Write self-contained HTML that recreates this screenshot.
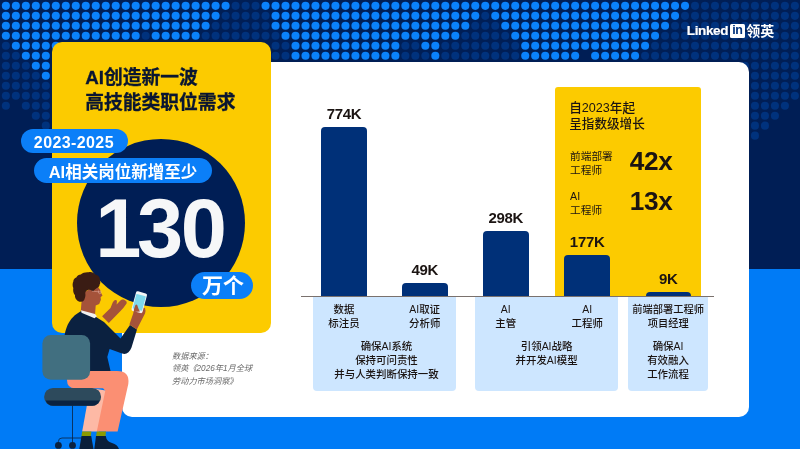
<!DOCTYPE html>
<html lang="zh-CN">
<head>
<meta charset="utf-8">
<title>AI创造新一波高技能类职位需求</title>
<style>
html,body{margin:0;padding:0}
body{width:800px;height:449px;overflow:hidden;background:#001e55;position:relative;font-family:"Liberation Sans","Noto Sans CJK SC",sans-serif;color:#1b1412}
.a{position:absolute}
#band{left:0;top:269.4px;width:800px;height:180px;background:#007bf6}
#bg{left:0;top:0}
#white{left:121.5px;top:61.5px;width:627.7px;height:355.8px;border-radius:10px;background:#fff}
#ycard{left:51.5px;top:41.5px;width:219.7px;height:291.7px;border-radius:10px;background:#fccb00}
#circle{left:77px;top:138.7px;width:168px;height:168px;border-radius:50%;background:#001e55}
.title{left:85.2px;-webkit-text-stroke:0.3px #0a1631;font-weight:700;font-size:18.8px;line-height:26px;color:#0a1631;white-space:nowrap}
.pill{background:#0b7ff8;color:#fff;border-radius:14px;text-align:center;font-weight:700;white-space:nowrap}
#p1{left:21.4px;top:128.8px;width:106.2px;height:24.5px;line-height:28.5px;font-size:16px;letter-spacing:0.4px;text-indent:-1.2px}
#p2{left:34px;top:158px;width:177.8px;height:25.3px;line-height:28.6px;font-size:16.5px}
#p3{left:190.8px;top:271.7px;width:61.9px;height:27.6px;line-height:28.8px;font-size:21px;text-indent:2.5px}
#big{left:93.3px;top:184px;width:160px;text-align:left;font-size:83px;line-height:90px;font-weight:700;color:#f6f7f8;letter-spacing:-2.45px;white-space:nowrap}
#foot{left:104.2px;top:248.6px;width:32.6px;height:8.6px;background:#f6f7f8}
.src{left:172px;font-size:8.2px;line-height:12.5px;font-style:italic;color:#6a6a6a;white-space:nowrap}
#ybox{left:555.2px;top:86.8px;width:146.2px;height:209.5px;border-radius:3px 3px 0 0;background:#fccb00}
.bar{background:#003078;border-radius:4px 4px 0 0}
.val{font-weight:700;font-size:15px;letter-spacing:-0.3px;line-height:16px;text-align:center;width:60px;white-space:nowrap}
#axis{left:301.4px;top:295.7px;width:413px;height:0.9px;background:#7a716d}
.lb{background:#cde6ff;border-radius:0 0 4px 4px;top:296.6px;height:94.6px}
.t{font-size:10.45px;font-weight:500;line-height:14px;text-align:center;width:120px;white-space:nowrap;color:#1b1412}
.h{left:569.2px;font-size:12.6px;line-height:16px;font-weight:500;white-space:nowrap}
.s{left:570px;font-size:10.7px;line-height:14px;white-space:nowrap}
.m{left:629.8px;font-size:26.2px;line-height:28px;font-weight:700;white-space:nowrap;letter-spacing:-0.3px}
#logo{left:686.8px;top:22px;color:#fff;white-space:nowrap;height:18px}
</style>
</head>
<body>
<div class="a" id="band"></div>
<svg class="a" id="bg" width="800" height="449" viewBox="0 0 800 449">
<g fill="#00327d"><circle cx="235.57" cy="5.85" r="4.05"/><circle cx="245.56" cy="5.85" r="4.05"/><circle cx="255.55" cy="5.85" r="4.05"/><circle cx="695.02" cy="5.85" r="4.05"/><circle cx="705.01" cy="5.85" r="4.05"/><circle cx="715.00" cy="5.85" r="4.05"/><circle cx="724.99" cy="5.85" r="4.05"/><circle cx="734.97" cy="5.85" r="4.05"/><circle cx="744.96" cy="5.85" r="4.05"/><circle cx="754.95" cy="5.85" r="4.05"/><circle cx="764.94" cy="5.85" r="4.05"/><circle cx="774.93" cy="5.85" r="4.05"/><circle cx="784.91" cy="5.85" r="4.05"/><circle cx="794.90" cy="5.85" r="4.05"/><circle cx="225.59" cy="15.83" r="4.05"/><circle cx="235.57" cy="15.83" r="4.05"/><circle cx="245.56" cy="15.83" r="4.05"/><circle cx="255.55" cy="15.83" r="4.05"/><circle cx="265.54" cy="15.83" r="4.05"/><circle cx="485.27" cy="15.83" r="4.05"/><circle cx="685.03" cy="15.83" r="4.05"/><circle cx="695.02" cy="15.83" r="4.05"/><circle cx="705.01" cy="15.83" r="4.05"/><circle cx="715.00" cy="15.83" r="4.05"/><circle cx="724.99" cy="15.83" r="4.05"/><circle cx="734.97" cy="15.83" r="4.05"/><circle cx="744.96" cy="15.83" r="4.05"/><circle cx="754.95" cy="15.83" r="4.05"/><circle cx="764.94" cy="15.83" r="4.05"/><circle cx="774.93" cy="15.83" r="4.05"/><circle cx="784.91" cy="15.83" r="4.05"/><circle cx="794.90" cy="15.83" r="4.05"/><circle cx="215.60" cy="25.82" r="4.05"/><circle cx="225.59" cy="25.82" r="4.05"/><circle cx="235.57" cy="25.82" r="4.05"/><circle cx="245.56" cy="25.82" r="4.05"/><circle cx="255.55" cy="25.82" r="4.05"/><circle cx="265.54" cy="25.82" r="4.05"/><circle cx="475.29" cy="25.82" r="4.05"/><circle cx="485.27" cy="25.82" r="4.05"/><circle cx="495.26" cy="25.82" r="4.05"/><circle cx="675.05" cy="25.82" r="4.05"/><circle cx="685.03" cy="25.82" r="4.05"/><circle cx="695.02" cy="25.82" r="4.05"/><circle cx="705.01" cy="25.82" r="4.05"/><circle cx="715.00" cy="25.82" r="4.05"/><circle cx="724.99" cy="25.82" r="4.05"/><circle cx="734.97" cy="25.82" r="4.05"/><circle cx="744.96" cy="25.82" r="4.05"/><circle cx="754.95" cy="25.82" r="4.05"/><circle cx="764.94" cy="25.82" r="4.05"/><circle cx="774.93" cy="25.82" r="4.05"/><circle cx="784.91" cy="25.82" r="4.05"/><circle cx="794.90" cy="25.82" r="4.05"/><circle cx="145.68" cy="35.80" r="4.05"/><circle cx="205.61" cy="35.80" r="4.05"/><circle cx="215.60" cy="35.80" r="4.05"/><circle cx="225.59" cy="35.80" r="4.05"/><circle cx="235.57" cy="35.80" r="4.05"/><circle cx="245.56" cy="35.80" r="4.05"/><circle cx="255.55" cy="35.80" r="4.05"/><circle cx="265.54" cy="35.80" r="4.05"/><circle cx="275.53" cy="35.80" r="4.05"/><circle cx="465.30" cy="35.80" r="4.05"/><circle cx="475.29" cy="35.80" r="4.05"/><circle cx="485.27" cy="35.80" r="4.05"/><circle cx="495.26" cy="35.80" r="4.05"/><circle cx="505.25" cy="35.80" r="4.05"/><circle cx="665.06" cy="35.80" r="4.05"/><circle cx="675.05" cy="35.80" r="4.05"/><circle cx="685.03" cy="35.80" r="4.05"/><circle cx="695.02" cy="35.80" r="4.05"/><circle cx="705.01" cy="35.80" r="4.05"/><circle cx="715.00" cy="35.80" r="4.05"/><circle cx="724.99" cy="35.80" r="4.05"/><circle cx="734.97" cy="35.80" r="4.05"/><circle cx="744.96" cy="35.80" r="4.05"/><circle cx="754.95" cy="35.80" r="4.05"/><circle cx="764.94" cy="35.80" r="4.05"/><circle cx="774.93" cy="35.80" r="4.05"/><circle cx="784.91" cy="35.80" r="4.05"/><circle cx="794.90" cy="35.80" r="4.05"/><circle cx="5.85" cy="45.79" r="4.05"/><circle cx="275.53" cy="45.79" r="4.05"/><circle cx="285.51" cy="45.79" r="4.05"/><circle cx="405.37" cy="45.79" r="4.05"/><circle cx="415.36" cy="45.79" r="4.05"/><circle cx="445.32" cy="45.79" r="4.05"/><circle cx="455.31" cy="45.79" r="4.05"/><circle cx="465.30" cy="45.79" r="4.05"/><circle cx="475.29" cy="45.79" r="4.05"/><circle cx="485.27" cy="45.79" r="4.05"/><circle cx="495.26" cy="45.79" r="4.05"/><circle cx="505.25" cy="45.79" r="4.05"/><circle cx="515.24" cy="45.79" r="4.05"/><circle cx="655.07" cy="45.79" r="4.05"/><circle cx="665.06" cy="45.79" r="4.05"/><circle cx="675.05" cy="45.79" r="4.05"/><circle cx="685.03" cy="45.79" r="4.05"/><circle cx="695.02" cy="45.79" r="4.05"/><circle cx="705.01" cy="45.79" r="4.05"/><circle cx="715.00" cy="45.79" r="4.05"/><circle cx="724.99" cy="45.79" r="4.05"/><circle cx="734.97" cy="45.79" r="4.05"/><circle cx="744.96" cy="45.79" r="4.05"/><circle cx="754.95" cy="45.79" r="4.05"/><circle cx="764.94" cy="45.79" r="4.05"/><circle cx="774.93" cy="45.79" r="4.05"/><circle cx="784.91" cy="45.79" r="4.05"/><circle cx="794.90" cy="45.79" r="4.05"/><circle cx="5.85" cy="55.77" r="4.05"/><circle cx="15.84" cy="55.77" r="4.05"/><circle cx="275.53" cy="55.77" r="4.05"/><circle cx="285.51" cy="55.77" r="4.05"/><circle cx="405.37" cy="55.77" r="4.05"/><circle cx="415.36" cy="55.77" r="4.05"/><circle cx="425.35" cy="55.77" r="4.05"/><circle cx="445.32" cy="55.77" r="4.05"/><circle cx="455.31" cy="55.77" r="4.05"/><circle cx="465.30" cy="55.77" r="4.05"/><circle cx="475.29" cy="55.77" r="4.05"/><circle cx="485.27" cy="55.77" r="4.05"/><circle cx="495.26" cy="55.77" r="4.05"/><circle cx="505.25" cy="55.77" r="4.05"/><circle cx="515.24" cy="55.77" r="4.05"/><circle cx="645.08" cy="55.77" r="4.05"/><circle cx="655.07" cy="55.77" r="4.05"/><circle cx="665.06" cy="55.77" r="4.05"/><circle cx="675.05" cy="55.77" r="4.05"/><circle cx="685.03" cy="55.77" r="4.05"/><circle cx="695.02" cy="55.77" r="4.05"/><circle cx="705.01" cy="55.77" r="4.05"/><circle cx="715.00" cy="55.77" r="4.05"/><circle cx="724.99" cy="55.77" r="4.05"/><circle cx="734.97" cy="55.77" r="4.05"/><circle cx="744.96" cy="55.77" r="4.05"/><circle cx="754.95" cy="55.77" r="4.05"/><circle cx="764.94" cy="55.77" r="4.05"/><circle cx="774.93" cy="55.77" r="4.05"/><circle cx="784.91" cy="55.77" r="4.05"/><circle cx="794.90" cy="55.77" r="4.05"/><circle cx="5.85" cy="65.76" r="4.05"/><circle cx="15.84" cy="65.76" r="4.05"/><circle cx="25.83" cy="65.76" r="4.05"/><circle cx="744.96" cy="65.76" r="4.05"/><circle cx="754.95" cy="65.76" r="4.05"/><circle cx="764.94" cy="65.76" r="4.05"/><circle cx="774.93" cy="65.76" r="4.05"/><circle cx="784.91" cy="65.76" r="4.05"/><circle cx="794.90" cy="65.76" r="4.05"/><circle cx="5.85" cy="75.74" r="4.05"/><circle cx="15.84" cy="75.74" r="4.05"/><circle cx="25.83" cy="75.74" r="4.05"/><circle cx="35.81" cy="75.74" r="4.05"/><circle cx="754.95" cy="75.74" r="4.05"/><circle cx="764.94" cy="75.74" r="4.05"/><circle cx="774.93" cy="75.74" r="4.05"/><circle cx="784.91" cy="75.74" r="4.05"/><circle cx="794.90" cy="75.74" r="4.05"/><circle cx="5.85" cy="85.73" r="4.05"/><circle cx="15.84" cy="85.73" r="4.05"/><circle cx="25.83" cy="85.73" r="4.05"/><circle cx="35.81" cy="85.73" r="4.05"/><circle cx="45.80" cy="85.73" r="4.05"/><circle cx="754.95" cy="85.73" r="4.05"/><circle cx="764.94" cy="85.73" r="4.05"/><circle cx="774.93" cy="85.73" r="4.05"/><circle cx="784.91" cy="85.73" r="4.05"/><circle cx="794.90" cy="85.73" r="4.05"/><circle cx="5.85" cy="95.71" r="4.05"/><circle cx="15.84" cy="95.71" r="4.05"/><circle cx="25.83" cy="95.71" r="4.05"/><circle cx="35.81" cy="95.71" r="4.05"/><circle cx="45.80" cy="95.71" r="4.05"/><circle cx="754.95" cy="95.71" r="4.05"/><circle cx="764.94" cy="95.71" r="4.05"/><circle cx="774.93" cy="95.71" r="4.05"/><circle cx="784.91" cy="95.71" r="4.05"/><circle cx="794.90" cy="95.71" r="4.05"/><circle cx="5.85" cy="105.70" r="4.05"/><circle cx="25.83" cy="105.70" r="4.05"/><circle cx="35.81" cy="105.70" r="4.05"/><circle cx="45.80" cy="105.70" r="4.05"/><circle cx="754.95" cy="105.70" r="4.05"/><circle cx="764.94" cy="105.70" r="4.05"/><circle cx="774.93" cy="105.70" r="4.05"/><circle cx="784.91" cy="105.70" r="4.05"/><circle cx="35.81" cy="115.68" r="4.05"/><circle cx="45.80" cy="115.68" r="4.05"/><circle cx="754.95" cy="115.68" r="4.05"/><circle cx="764.94" cy="115.68" r="4.05"/><circle cx="774.93" cy="115.68" r="4.05"/><circle cx="45.80" cy="125.67" r="4.05"/><circle cx="754.95" cy="125.67" r="4.05"/><circle cx="764.94" cy="125.67" r="4.05"/><circle cx="754.95" cy="135.66" r="4.05"/></g>
<g fill="#0a82fc"><circle cx="5.85" cy="5.85" r="4.05"/><circle cx="15.84" cy="5.85" r="4.05"/><circle cx="25.83" cy="5.85" r="4.05"/><circle cx="35.81" cy="5.85" r="4.05"/><circle cx="45.80" cy="5.85" r="4.05"/><circle cx="55.79" cy="5.85" r="4.05"/><circle cx="65.78" cy="5.85" r="4.05"/><circle cx="75.77" cy="5.85" r="4.05"/><circle cx="85.75" cy="5.85" r="4.05"/><circle cx="95.74" cy="5.85" r="4.05"/><circle cx="105.73" cy="5.85" r="4.05"/><circle cx="115.72" cy="5.85" r="4.05"/><circle cx="125.71" cy="5.85" r="4.05"/><circle cx="135.69" cy="5.85" r="4.05"/><circle cx="145.68" cy="5.85" r="4.05"/><circle cx="155.67" cy="5.85" r="4.05"/><circle cx="165.66" cy="5.85" r="4.05"/><circle cx="175.65" cy="5.85" r="4.05"/><circle cx="185.63" cy="5.85" r="4.05"/><circle cx="195.62" cy="5.85" r="4.05"/><circle cx="205.61" cy="5.85" r="4.05"/><circle cx="215.60" cy="5.85" r="4.05"/><circle cx="225.59" cy="5.85" r="4.05"/><circle cx="265.54" cy="5.85" r="4.05"/><circle cx="275.53" cy="5.85" r="4.05"/><circle cx="285.51" cy="5.85" r="4.05"/><circle cx="295.50" cy="5.85" r="4.05"/><circle cx="305.49" cy="5.85" r="4.05"/><circle cx="315.48" cy="5.85" r="4.05"/><circle cx="325.47" cy="5.85" r="4.05"/><circle cx="335.45" cy="5.85" r="4.05"/><circle cx="345.44" cy="5.85" r="4.05"/><circle cx="355.43" cy="5.85" r="4.05"/><circle cx="365.42" cy="5.85" r="4.05"/><circle cx="375.41" cy="5.85" r="4.05"/><circle cx="385.39" cy="5.85" r="4.05"/><circle cx="395.38" cy="5.85" r="4.05"/><circle cx="405.37" cy="5.85" r="4.05"/><circle cx="415.36" cy="5.85" r="4.05"/><circle cx="425.35" cy="5.85" r="4.05"/><circle cx="435.33" cy="5.85" r="4.05"/><circle cx="445.32" cy="5.85" r="4.05"/><circle cx="455.31" cy="5.85" r="4.05"/><circle cx="465.30" cy="5.85" r="4.05"/><circle cx="475.29" cy="5.85" r="4.05"/><circle cx="485.27" cy="5.85" r="4.05"/><circle cx="495.26" cy="5.85" r="4.05"/><circle cx="505.25" cy="5.85" r="4.05"/><circle cx="515.24" cy="5.85" r="4.05"/><circle cx="525.23" cy="5.85" r="4.05"/><circle cx="535.21" cy="5.85" r="4.05"/><circle cx="545.20" cy="5.85" r="4.05"/><circle cx="555.19" cy="5.85" r="4.05"/><circle cx="565.18" cy="5.85" r="4.05"/><circle cx="575.17" cy="5.85" r="4.05"/><circle cx="585.15" cy="5.85" r="4.05"/><circle cx="595.14" cy="5.85" r="4.05"/><circle cx="605.13" cy="5.85" r="4.05"/><circle cx="615.12" cy="5.85" r="4.05"/><circle cx="625.11" cy="5.85" r="4.05"/><circle cx="635.09" cy="5.85" r="4.05"/><circle cx="645.08" cy="5.85" r="4.05"/><circle cx="655.07" cy="5.85" r="4.05"/><circle cx="665.06" cy="5.85" r="4.05"/><circle cx="675.05" cy="5.85" r="4.05"/><circle cx="685.03" cy="5.85" r="4.05"/><circle cx="5.85" cy="15.83" r="4.05"/><circle cx="15.84" cy="15.83" r="4.05"/><circle cx="25.83" cy="15.83" r="4.05"/><circle cx="35.81" cy="15.83" r="4.05"/><circle cx="45.80" cy="15.83" r="4.05"/><circle cx="55.79" cy="15.83" r="4.05"/><circle cx="65.78" cy="15.83" r="4.05"/><circle cx="75.77" cy="15.83" r="4.05"/><circle cx="85.75" cy="15.83" r="4.05"/><circle cx="95.74" cy="15.83" r="4.05"/><circle cx="105.73" cy="15.83" r="4.05"/><circle cx="115.72" cy="15.83" r="4.05"/><circle cx="125.71" cy="15.83" r="4.05"/><circle cx="135.69" cy="15.83" r="4.05"/><circle cx="145.68" cy="15.83" r="4.05"/><circle cx="155.67" cy="15.83" r="4.05"/><circle cx="165.66" cy="15.83" r="4.05"/><circle cx="175.65" cy="15.83" r="4.05"/><circle cx="185.63" cy="15.83" r="4.05"/><circle cx="195.62" cy="15.83" r="4.05"/><circle cx="205.61" cy="15.83" r="4.05"/><circle cx="215.60" cy="15.83" r="4.05"/><circle cx="275.53" cy="15.83" r="4.05"/><circle cx="285.51" cy="15.83" r="4.05"/><circle cx="295.50" cy="15.83" r="4.05"/><circle cx="305.49" cy="15.83" r="4.05"/><circle cx="315.48" cy="15.83" r="4.05"/><circle cx="325.47" cy="15.83" r="4.05"/><circle cx="335.45" cy="15.83" r="4.05"/><circle cx="345.44" cy="15.83" r="4.05"/><circle cx="355.43" cy="15.83" r="4.05"/><circle cx="365.42" cy="15.83" r="4.05"/><circle cx="375.41" cy="15.83" r="4.05"/><circle cx="385.39" cy="15.83" r="4.05"/><circle cx="395.38" cy="15.83" r="4.05"/><circle cx="405.37" cy="15.83" r="4.05"/><circle cx="415.36" cy="15.83" r="4.05"/><circle cx="425.35" cy="15.83" r="4.05"/><circle cx="435.33" cy="15.83" r="4.05"/><circle cx="445.32" cy="15.83" r="4.05"/><circle cx="455.31" cy="15.83" r="4.05"/><circle cx="465.30" cy="15.83" r="4.05"/><circle cx="475.29" cy="15.83" r="4.05"/><circle cx="495.26" cy="15.83" r="4.05"/><circle cx="505.25" cy="15.83" r="4.05"/><circle cx="515.24" cy="15.83" r="4.05"/><circle cx="525.23" cy="15.83" r="4.05"/><circle cx="535.21" cy="15.83" r="4.05"/><circle cx="545.20" cy="15.83" r="4.05"/><circle cx="555.19" cy="15.83" r="4.05"/><circle cx="565.18" cy="15.83" r="4.05"/><circle cx="575.17" cy="15.83" r="4.05"/><circle cx="585.15" cy="15.83" r="4.05"/><circle cx="595.14" cy="15.83" r="4.05"/><circle cx="605.13" cy="15.83" r="4.05"/><circle cx="615.12" cy="15.83" r="4.05"/><circle cx="625.11" cy="15.83" r="4.05"/><circle cx="635.09" cy="15.83" r="4.05"/><circle cx="645.08" cy="15.83" r="4.05"/><circle cx="655.07" cy="15.83" r="4.05"/><circle cx="665.06" cy="15.83" r="4.05"/><circle cx="675.05" cy="15.83" r="4.05"/><circle cx="5.85" cy="25.82" r="4.05"/><circle cx="15.84" cy="25.82" r="4.05"/><circle cx="25.83" cy="25.82" r="4.05"/><circle cx="35.81" cy="25.82" r="4.05"/><circle cx="45.80" cy="25.82" r="4.05"/><circle cx="55.79" cy="25.82" r="4.05"/><circle cx="65.78" cy="25.82" r="4.05"/><circle cx="75.77" cy="25.82" r="4.05"/><circle cx="85.75" cy="25.82" r="4.05"/><circle cx="95.74" cy="25.82" r="4.05"/><circle cx="105.73" cy="25.82" r="4.05"/><circle cx="115.72" cy="25.82" r="4.05"/><circle cx="125.71" cy="25.82" r="4.05"/><circle cx="135.69" cy="25.82" r="4.05"/><circle cx="145.68" cy="25.82" r="4.05"/><circle cx="155.67" cy="25.82" r="4.05"/><circle cx="165.66" cy="25.82" r="4.05"/><circle cx="175.65" cy="25.82" r="4.05"/><circle cx="185.63" cy="25.82" r="4.05"/><circle cx="195.62" cy="25.82" r="4.05"/><circle cx="205.61" cy="25.82" r="4.05"/><circle cx="275.53" cy="25.82" r="4.05"/><circle cx="285.51" cy="25.82" r="4.05"/><circle cx="295.50" cy="25.82" r="4.05"/><circle cx="305.49" cy="25.82" r="4.05"/><circle cx="315.48" cy="25.82" r="4.05"/><circle cx="325.47" cy="25.82" r="4.05"/><circle cx="335.45" cy="25.82" r="4.05"/><circle cx="345.44" cy="25.82" r="4.05"/><circle cx="355.43" cy="25.82" r="4.05"/><circle cx="365.42" cy="25.82" r="4.05"/><circle cx="375.41" cy="25.82" r="4.05"/><circle cx="385.39" cy="25.82" r="4.05"/><circle cx="395.38" cy="25.82" r="4.05"/><circle cx="405.37" cy="25.82" r="4.05"/><circle cx="415.36" cy="25.82" r="4.05"/><circle cx="425.35" cy="25.82" r="4.05"/><circle cx="435.33" cy="25.82" r="4.05"/><circle cx="445.32" cy="25.82" r="4.05"/><circle cx="455.31" cy="25.82" r="4.05"/><circle cx="465.30" cy="25.82" r="4.05"/><circle cx="505.25" cy="25.82" r="4.05"/><circle cx="515.24" cy="25.82" r="4.05"/><circle cx="525.23" cy="25.82" r="4.05"/><circle cx="535.21" cy="25.82" r="4.05"/><circle cx="545.20" cy="25.82" r="4.05"/><circle cx="555.19" cy="25.82" r="4.05"/><circle cx="565.18" cy="25.82" r="4.05"/><circle cx="575.17" cy="25.82" r="4.05"/><circle cx="585.15" cy="25.82" r="4.05"/><circle cx="595.14" cy="25.82" r="4.05"/><circle cx="605.13" cy="25.82" r="4.05"/><circle cx="615.12" cy="25.82" r="4.05"/><circle cx="625.11" cy="25.82" r="4.05"/><circle cx="635.09" cy="25.82" r="4.05"/><circle cx="645.08" cy="25.82" r="4.05"/><circle cx="655.07" cy="25.82" r="4.05"/><circle cx="665.06" cy="25.82" r="4.05"/><circle cx="5.85" cy="35.80" r="4.05"/><circle cx="15.84" cy="35.80" r="4.05"/><circle cx="25.83" cy="35.80" r="4.05"/><circle cx="35.81" cy="35.80" r="4.05"/><circle cx="45.80" cy="35.80" r="4.05"/><circle cx="55.79" cy="35.80" r="4.05"/><circle cx="65.78" cy="35.80" r="4.05"/><circle cx="75.77" cy="35.80" r="4.05"/><circle cx="85.75" cy="35.80" r="4.05"/><circle cx="95.74" cy="35.80" r="4.05"/><circle cx="105.73" cy="35.80" r="4.05"/><circle cx="115.72" cy="35.80" r="4.05"/><circle cx="125.71" cy="35.80" r="4.05"/><circle cx="135.69" cy="35.80" r="4.05"/><circle cx="155.67" cy="35.80" r="4.05"/><circle cx="165.66" cy="35.80" r="4.05"/><circle cx="175.65" cy="35.80" r="4.05"/><circle cx="185.63" cy="35.80" r="4.05"/><circle cx="195.62" cy="35.80" r="4.05"/><circle cx="285.51" cy="35.80" r="4.05"/><circle cx="295.50" cy="35.80" r="4.05"/><circle cx="305.49" cy="35.80" r="4.05"/><circle cx="315.48" cy="35.80" r="4.05"/><circle cx="325.47" cy="35.80" r="4.05"/><circle cx="335.45" cy="35.80" r="4.05"/><circle cx="345.44" cy="35.80" r="4.05"/><circle cx="355.43" cy="35.80" r="4.05"/><circle cx="365.42" cy="35.80" r="4.05"/><circle cx="375.41" cy="35.80" r="4.05"/><circle cx="385.39" cy="35.80" r="4.05"/><circle cx="395.38" cy="35.80" r="4.05"/><circle cx="405.37" cy="35.80" r="4.05"/><circle cx="415.36" cy="35.80" r="4.05"/><circle cx="425.35" cy="35.80" r="4.05"/><circle cx="435.33" cy="35.80" r="4.05"/><circle cx="445.32" cy="35.80" r="4.05"/><circle cx="455.31" cy="35.80" r="4.05"/><circle cx="515.24" cy="35.80" r="4.05"/><circle cx="525.23" cy="35.80" r="4.05"/><circle cx="535.21" cy="35.80" r="4.05"/><circle cx="545.20" cy="35.80" r="4.05"/><circle cx="555.19" cy="35.80" r="4.05"/><circle cx="565.18" cy="35.80" r="4.05"/><circle cx="575.17" cy="35.80" r="4.05"/><circle cx="585.15" cy="35.80" r="4.05"/><circle cx="595.14" cy="35.80" r="4.05"/><circle cx="605.13" cy="35.80" r="4.05"/><circle cx="615.12" cy="35.80" r="4.05"/><circle cx="625.11" cy="35.80" r="4.05"/><circle cx="635.09" cy="35.80" r="4.05"/><circle cx="645.08" cy="35.80" r="4.05"/><circle cx="655.07" cy="35.80" r="4.05"/><circle cx="15.84" cy="45.79" r="4.05"/><circle cx="25.83" cy="45.79" r="4.05"/><circle cx="35.81" cy="45.79" r="4.05"/><circle cx="45.80" cy="45.79" r="4.05"/><circle cx="55.79" cy="45.79" r="4.05"/><circle cx="295.50" cy="45.79" r="4.05"/><circle cx="305.49" cy="45.79" r="4.05"/><circle cx="315.48" cy="45.79" r="4.05"/><circle cx="325.47" cy="45.79" r="4.05"/><circle cx="335.45" cy="45.79" r="4.05"/><circle cx="345.44" cy="45.79" r="4.05"/><circle cx="355.43" cy="45.79" r="4.05"/><circle cx="365.42" cy="45.79" r="4.05"/><circle cx="375.41" cy="45.79" r="4.05"/><circle cx="385.39" cy="45.79" r="4.05"/><circle cx="395.38" cy="45.79" r="4.05"/><circle cx="425.35" cy="45.79" r="4.05"/><circle cx="435.33" cy="45.79" r="4.05"/><circle cx="525.23" cy="45.79" r="4.05"/><circle cx="535.21" cy="45.79" r="4.05"/><circle cx="545.20" cy="45.79" r="4.05"/><circle cx="555.19" cy="45.79" r="4.05"/><circle cx="565.18" cy="45.79" r="4.05"/><circle cx="575.17" cy="45.79" r="4.05"/><circle cx="585.15" cy="45.79" r="4.05"/><circle cx="595.14" cy="45.79" r="4.05"/><circle cx="605.13" cy="45.79" r="4.05"/><circle cx="615.12" cy="45.79" r="4.05"/><circle cx="625.11" cy="45.79" r="4.05"/><circle cx="635.09" cy="45.79" r="4.05"/><circle cx="645.08" cy="45.79" r="4.05"/><circle cx="25.83" cy="55.77" r="4.05"/><circle cx="35.81" cy="55.77" r="4.05"/><circle cx="45.80" cy="55.77" r="4.05"/><circle cx="295.50" cy="55.77" r="4.05"/><circle cx="305.49" cy="55.77" r="4.05"/><circle cx="315.48" cy="55.77" r="4.05"/><circle cx="325.47" cy="55.77" r="4.05"/><circle cx="335.45" cy="55.77" r="4.05"/><circle cx="345.44" cy="55.77" r="4.05"/><circle cx="355.43" cy="55.77" r="4.05"/><circle cx="365.42" cy="55.77" r="4.05"/><circle cx="375.41" cy="55.77" r="4.05"/><circle cx="385.39" cy="55.77" r="4.05"/><circle cx="395.38" cy="55.77" r="4.05"/><circle cx="435.33" cy="55.77" r="4.05"/><circle cx="525.23" cy="55.77" r="4.05"/><circle cx="535.21" cy="55.77" r="4.05"/><circle cx="545.20" cy="55.77" r="4.05"/><circle cx="555.19" cy="55.77" r="4.05"/><circle cx="565.18" cy="55.77" r="4.05"/><circle cx="575.17" cy="55.77" r="4.05"/><circle cx="595.14" cy="55.77" r="4.05"/><circle cx="605.13" cy="55.77" r="4.05"/><circle cx="615.12" cy="55.77" r="4.05"/><circle cx="625.11" cy="55.77" r="4.05"/><circle cx="635.09" cy="55.77" r="4.05"/><circle cx="35.81" cy="65.76" r="4.05"/><circle cx="45.80" cy="65.76" r="4.05"/><circle cx="45.80" cy="75.74" r="4.05"/></g>
</svg>
<div class="a" id="white"></div>
<div class="a" id="ycard"></div>
<div class="a" id="circle"></div>

<div class="a title" style="top:64.5px">AI创造新一波</div>
<div class="a title" style="top:90px">高技能类职位需求</div>

<div class="a pill" id="p1">2023-2025</div>
<div class="a pill" id="p2">AI相关岗位新增至少</div>
<div class="a" id="big"><span style="position:relative;left:2px">1</span>30</div>
<div class="a" id="foot"></div>
<div class="a pill" id="p3">万个</div>

<div class="a src" style="top:350.6px">数据来源：</div>
<div class="a src" style="top:363.3px">领英《2026年1月全球</div>
<div class="a src" style="top:375.6px">劳动力市场洞察》</div>

<!-- chart -->
<div class="a" id="ybox"></div>
<div class="a lb" style="left:312.7px;width:143.7px"></div>
<div class="a lb" style="left:475px;width:143.2px"></div>
<div class="a lb" style="left:627.5px;width:80.9px"></div>

<div class="a bar" style="left:321.1px;width:45.7px;top:126.8px;height:169.2px"></div>
<div class="a bar" style="left:402px;width:45.5px;top:283.2px;height:12.8px"></div>
<div class="a bar" style="left:483px;width:45.6px;top:230.9px;height:65.1px"></div>
<div class="a bar" style="left:564.3px;width:45.7px;top:255.2px;height:40.8px"></div>
<div class="a bar" style="left:645.5px;width:45.5px;top:292.3px;height:3.7px"></div>
<div class="a" id="axis"></div>

<div class="a val" style="left:314px;top:106px">774K</div>
<div class="a val" style="left:394.7px;top:262.3px">49K</div>
<div class="a val" style="left:475.8px;top:210px">298K</div>
<div class="a val" style="left:557.2px;top:233.6px">177K</div>
<div class="a val" style="left:638.2px;top:271px">9K</div>

<div class="a t" style="left:284px;top:302.9px">数据<br>标注员</div>
<div class="a t" style="left:364.7px;top:302.9px">AI取证<br>分析师</div>
<div class="a t" style="left:326.5px;top:340.2px">确保AI系统<br>保持可问责性<br>并与人类判断保持一致</div>
<div class="a t" style="left:445.8px;top:302.9px">AI<br>主管</div>
<div class="a t" style="left:527.2px;top:302.9px">AI<br>工程师</div>
<div class="a t" style="left:486.6px;top:340.2px">引领AI战略<br>并开发AI模型</div>
<div class="a t" style="left:608.2px;top:302.9px;font-size:10.25px">前端部署工程师<br>项目经理</div>
<div class="a t" style="left:608px;top:340.2px">确保AI<br>有效融入<br>工作流程</div>

<div class="a h" style="top:100.1px">自2023年起</div>
<div class="a h" style="top:116px">呈指数级增长</div>
<div class="a s" style="top:149.3px">前端部署<br>工程师</div>
<div class="a m" style="top:146.9px">42x</div>
<div class="a s" style="top:189.3px">AI<br>工程师</div>
<div class="a m" style="top:186.9px">13x</div>

<!-- logo -->
<div class="a" id="logo"><span style="font-weight:700;font-size:13.5px;letter-spacing:-0.36px;-webkit-text-stroke:0.2px #fff;vertical-align:top;line-height:18.4px">Linked</span><span style="display:inline-block;vertical-align:top;margin:2px 1px 0 1.6px;width:15.4px;height:13.8px;background:#fff;border-radius:1.5px;color:#00327d;font-weight:700;font-size:12.5px;line-height:13.5px;text-align:center;letter-spacing:-0.3px">in</span><span style="font-weight:700;font-size:14px;vertical-align:top;line-height:18px">领英</span></div>

<!-- person -->
<svg class="a" style="left:0;top:0" width="800" height="449" viewBox="0 0 800 449">
<g>
<!-- chair base -->
<g stroke="#0a2240" stroke-width="0.8" fill="none">
<path d="M72.5 404 V442"/>
<path d="M58.4 443 V441.5 Q58.4 438 62 438 H82"/>
</g>
<circle cx="58.4" cy="445.4" r="3.4" fill="#0a2240"/>
<circle cx="72.5" cy="445.4" r="3.4" fill="#0a2240"/>
<!-- far leg -->
<path d="M90 388 L107.3 390.8 L98.8 431.5 L82.2 431.5 Z" fill="#fdb9a5"/>
<!-- torso -->
<path d="M64 345 C64 326 71 316 82 310.8 L96 317 L104 322 L120.5 338.5 L130 324.9 L137 329.5 L131.5 347.5 Q128 356.5 120 352.8 L109.6 349 L107.3 357 L111 373 L64 373 Z" fill="#0b2140"/>
<!-- thigh + near leg -->
<path d="M67 371.1 L117 371.1 Q130 371.1 128.3 384 L117.6 431.5 L96.8 431.5 L105.3 390.7 L103 388.2 L75 388.2 Q67 388.2 67 380 Z" fill="#fb8f73"/>
<!-- socks -->
<path d="M82.2 431.5 H91.4 L90.8 436.2 H81.5 Z" fill="#8b9a00"/>
<path d="M96.8 431.5 H106 L105.4 436.2 H96.1 Z" fill="#8b9a00"/>
<!-- shoes -->
<path d="M81.5 436 H91.2 L93.5 449 H79.3 Z" fill="#0a1f3a"/>
<path d="M96 436 H105.8 Q106.5 441.5 112 443 Q117.5 444.5 119 449 H94.3 Z" fill="#0a1f3a"/>
<!-- seat -->
<path d="M53 388 H92.2 A8.9 8.9 0 0 1 92.2 405.8 H53 A8.9 8.9 0 0 1 53 388 Z" fill="#2d4a5c"/>
<path d="M45.6 400.4 H99.6 A8.9 8.9 0 0 1 92.2 405.8 H53 A8.9 8.9 0 0 1 45.6 400.4 Z" fill="#0a2240"/>
<!-- chair back -->
<rect x="42.4" y="335" width="47.7" height="44.7" rx="8.5" fill="#416f80"/>
<!-- neck + face -->
<path d="M81.4 303 L85 292 L93 287 L97.9 286.8 L100.2 289.9 L100.8 292.5 L102.5 295.6 L100.6 297.2 L100.9 299.8 L99.2 303.9 L95.7 305.4 L95 315 L80.8 311 Z" fill="#a5533a"/>
<!-- collar -->
<path d="M81 310.3 L95 314 L96.9 316.2 L94.5 318.2 L81.5 312.8 Z" fill="#f1f1f1"/>
<!-- hair -->
<path d="M88.5 272.3 C91 271.3 94 272.6 95.2 274.4 C98.2 275 100.3 277.4 99.8 280 C100.6 281.8 100.4 283.6 99.6 284.6 C99.6 286 98.8 287 97.9 287.5 C96 288.3 94.4 289.8 93.1 291.4 C91.4 290 89.2 289.4 87.9 290 C86.2 290.6 85.2 292 85.3 293.4 C85.6 295 85.4 296.8 84.7 298.4 C84.4 300.4 83 301.6 81.4 301.7 C79.6 302 77.6 301.2 76.8 300 C75.4 298.8 74.8 296.8 75 295.2 C73.4 293.4 72.8 290.6 73.3 288 C72.4 286 72.4 283.4 73.3 281.5 C73.4 279.6 74.6 278.2 76.3 277.6 C77.2 275.6 79 274.4 80.8 274.4 C82.6 272.8 85.8 272 88.5 272.3 Z" fill="#3a1c14"/>
<!-- glasses -->
<path d="M92 291.2 L100.4 291.9" stroke="#e6b3a6" stroke-width="0.5" fill="none"/>
<path d="M98.4 290.4 Q98 294 100 294 Q101.4 293.6 101 290.6" fill="none" stroke="#e6b3a6" stroke-width="0.5"/>
<!-- far arm -->
<path d="M102.1 316.3 L110.5 308 L112.7 302.4 Q114.3 299.6 116 300 Q117.4 300.6 116.9 302 L116.6 304.6 L120.4 300.4 Q122 299 123.6 299.6 L125.4 300.6 Q127.4 301.8 126.6 303.6 L123.3 307.9 L120.5 310.9 L108.8 323 Z" fill="#a5533a"/>
<!-- near forearm + hand -->
<path d="M129.4 324.6 L133.2 313.5 L133.9 309 L139 307 L145 308 Q146 311 145 313.4 L136.8 329.6 Z" fill="#a5533a"/>
<!-- phone -->
<g transform="translate(136.4 290.9) rotate(15)">
<rect x="0" y="0" width="11.4" height="20.4" rx="1.8" fill="#f4f6f7"/>
<rect x="0.8" y="2.8" width="9.8" height="15" rx="0.5" fill="#7fd8ec"/>
</g>
<!-- fingers over phone -->
<path d="M133.8 309.8 L135.3 305.2 Q136.3 304 137.2 305 L138.6 309 L140 311.5 L134 312 Z" fill="#a5533a"/>
</g>

</svg>
</body>
</html>
